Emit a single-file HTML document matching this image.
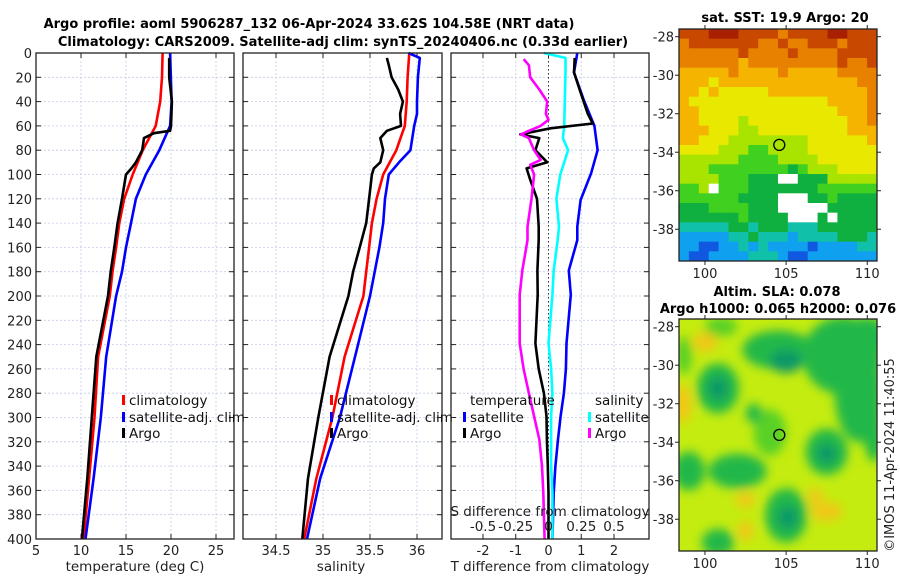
<!DOCTYPE html>
<html><head><meta charset="utf-8">
<style>
body{margin:0;background:#fff;}
svg{display:block;font-family:"DejaVu Sans","Liberation Sans",sans-serif;}
</style></head>
<body>
<svg id="fig" width="900" height="580" viewBox="0 0 900 580">
<defs>
<filter id="blur" x="-20%" y="-20%" width="140%" height="140%"><feGaussianBlur stdDeviation="5"/></filter>
<clipPath id="clipSla"><rect x="679" y="319" width="198" height="232"/></clipPath>
</defs>
<text x="309" y="28" text-anchor="middle" font-size="13" font-weight="bold">Argo profile: aoml 5906287_132 06-Apr-2024 33.62S 104.58E (NRT data)</text>
<text x="343" y="46" text-anchor="middle" font-size="13" font-weight="bold">Climatology: CARS2009. Satellite-adj clim: synTS_20240406.nc (0.33d earlier)</text>
<text x="785" y="22" text-anchor="middle" font-size="13" font-weight="bold">sat. SST: 19.9 Argo: 20</text>
<text x="777" y="296" text-anchor="middle" font-size="13" font-weight="bold">Altim. SLA: 0.078</text>
<text x="778" y="313" text-anchor="middle" font-size="13" font-weight="bold">Argo h1000: 0.065 h2000: 0.076</text>
<text transform="translate(894,455) rotate(-90)" text-anchor="middle" font-size="13" fill="#222">©IMOS 11-Apr-2024 11:40:55</text>
<g id="layer"></g>
</svg>
<script>
// ---------- profile data ----------
const depthTicks = [0,20,40,60,80,100,120,140,160,180,200,220,240,260,280,300,320,340,360,380,400];
const tempTicks = [5,10,15,20,25];
const salTicks = [34.5,35,35.5,36];
const salTickLabels = ["34.5","35","35.5","36"];
const dTTicks = [-2,-1,0,1,2];
const dSTickLabels = ["-0.5","-0.25","0","0.25","0.5"];
const dSTicks = [-0.5,-0.25,0,0.25,0.5];

const tClimDepth = [0,20,40,60,80,100,120,140,160,180,200,250,300,350,400];
const tClimVal   = [19.07,19.0,18.8,18.3,16.85,15.74,14.8,14.26,13.9,13.5,13.2,11.9,11.5,10.9,10.3];
const tSatDepth  = [0,40,60,80,100,120,140,160,180,200,250,300,350,400];
const tSatVal    = [19.9,20.07,19.9,18.7,17.2,16.1,15.55,15.0,14.55,13.9,12.8,12.2,11.4,10.5];
const tArgoDepth = [4,20,40,60,64,66,70,80,90,95,100,120,140,160,180,200,250,300,350,400];
const tArgoVal   = [19.8,19.8,20.1,20.0,19.9,18.1,17.0,16.8,16.1,15.6,15.0,14.55,14.07,13.7,13.3,13.0,11.7,11.2,10.7,10.1];

const sClimDepth = [0,20,40,60,80,100,120,140,160,180,200,250,300,350,400];
const sClimVal   = [35.918,35.90,35.89,35.87,35.78,35.64,35.57,35.52,35.49,35.46,35.43,35.23,35.1,34.93,34.80];
const sSatDepth  = [0,4,20,40,50,60,80,90,100,120,140,160,180,200,250,300,350,400];
const sSatVal    = [35.91,36.03,36.01,36.0,36.0,35.97,35.93,35.81,35.70,35.66,35.64,35.60,35.55,35.50,35.34,35.18,34.97,34.83];
const sArgoDepth = [4,10,20,30,40,50,60,64,70,80,90,95,100,120,140,160,180,200,250,300,350,400];
const sArgoVal   = [35.68,35.70,35.73,35.80,35.85,35.82,35.83,35.68,35.61,35.64,35.61,35.54,35.52,35.49,35.46,35.39,35.32,35.27,35.07,34.95,34.84,34.78];

const dTSatDepth = [0,16,39,60,80,99,121,143,154,179,199,239,260,280,299,318,340,362,400];
const dTSatVal   = [0.88,0.78,1.08,1.4,1.5,1.3,0.98,0.88,0.88,0.62,0.68,0.55,0.53,0.47,0.37,0.29,0.21,0.16,0.12];
const dTArgoDepth= [4,16,30,50,58,62,67,70,80,90,95,105,120,143,154,179,199,239,260,280,299,318,340,362,400];
const dTArgoVal  = [0.8,0.78,0.95,1.2,1.35,0.06,-0.86,-0.28,-0.4,-0.04,-0.67,-0.55,-0.35,-0.3,-0.3,-0.34,-0.33,-0.4,-0.3,-0.14,-0.06,-0.05,-0.02,0.0,0.0];
const dSSatDepth = [0,4,16,60,70,80,100,120,143,154,179,199,239,260,280,299,318,340,362,400];
const dSSatVal   = [-0.036,0.13,0.13,0.12,0.11,0.15,0.09,0.06,0.08,0.07,0.04,0.03,0.0,0.02,0.03,0.02,0.02,0.02,0.03,0.03];
const dSArgoDepth= [5,10,20,30,40,50,55,60,65,67,70,80,88,92,100,120,143,154,179,199,239,260,280,299,318,340,362,400];
const dSArgoVal  = [-0.19,-0.15,-0.14,-0.07,-0.01,-0.02,0.0,-0.06,-0.17,-0.21,-0.15,-0.11,-0.06,-0.14,-0.11,-0.13,-0.16,-0.16,-0.2,-0.22,-0.22,-0.19,-0.15,-0.11,-0.07,-0.05,-0.04,-0.03];

// ---------- map data ----------
const lonTicks = [100,105,110];
const latTicks = [-28,-30,-32,-34,-36,-38];
const argoLon = [104.58];
const argoLat = [-33.62];
const sstPalette = ["#ffffff","#1058e0","#10a0f0","#10c0a8","#10b040","#40d020","#a8e400","#e8e800","#f4b400","#e88000","#c84800","#a82000"];
const sstRows = [
"aaabbbaaaa9aaaabbaaa","9aaaaaaa99a99aaa9aaa","999999a9999a9999aaaa","9999998999999999a99a",
"88888988889888889999","88878888888888888899","88787777788888888889","87777777777777788889",
"88777777777777778889","88777767777777777889","88877766777777777888","88777666666667777778",
"77776665566667777777","66666655556666777777","66655555555456667777","66665554440044466666",
"55605554444444555555","55555544440004454444","44455554440000044444","44444454444000404444",
"33333443444333444444","22222334333233334443","22112232322221222233","21122223332112222222"];
const slaBlobLon = [98.7,101,104.5,108.5,109.5,110,100.8,107.5,104,103,99,102,105,100.8,110.4,105,100.8,107.5,105.1];
const slaBlobLat = [-29.5,-28,-29.2,-29.5,-31.5,-28.5,-31.2,-34.5,-33.5,-32.5,-35.5,-35.5,-37.8,-39.2,-33.5,-29.8,-31.2,-34.6,-37.9];
const slaBlobRx  = [0.5,1,2.2,2.5,1.5,1.2,1.3,1.3,1,0.5,1,1.8,1.3,1,0.6,1,0.6,0.6,0.6];
const slaBlobRy  = [1,0.5,1,2,2.5,1,1.3,1.2,1.2,0.5,1,0.9,1.4,0.7,1.5,0.6,0.6,0.5,0.6];
const slaBlobLvl = [1,1,2,2,2,2,2,2,1,2,2,2,2,2,2,3,3,3,3];
const slaWarmLon = [98.6,100,102.5,106.8,107.5,102.5];
const slaWarmLat = [-32,-28.8,-37,-36.8,-37.6,-38.6];
const slaWarmRx  = [0.6,0.8,0.6,0.5,1,0.5];
const slaWarmRy  = [1,0.5,0.4,0.4,0.5,0.5];

// ---------- helpers ----------
const NS='http://www.w3.org/2000/svg';
const layer=document.getElementById('layer');
function mk(tag,attrs,parent){const e=document.createElementNS(NS,tag);for(const k in attrs)e.setAttribute(k,attrs[k]);(parent||layer).appendChild(e);return e;}
const yTop=53,yBot=539;
function yD(d){return yTop+(d-0)*(yBot-yTop)/400;}
function lin(d0,d1,r0,r1){return v=>r0+(v-d0)*(r1-r0)/(d1-d0);}

function panel(name,x0,x1,xs,xticks,xlabels,showY){
  const g=mk('g',{});
  
  
  depthTicks.forEach(d=>{ if(d>0&&d<400){const l=mk('line',{x1:x0,x2:x1,y1:yD(d),y2:yD(d),stroke:'#c4cce8','stroke-width':0.8,'stroke-dasharray':'2,2'},g);
    }
    mk('line',{x1:x0,x2:x0+5,y1:yD(d),y2:yD(d),stroke:'#222'},g);mk('line',{x1:x1-5,x2:x1,y1:yD(d),y2:yD(d),stroke:'#222'},g);
    if(showY){const t=mk('text',{x:x0-4,y:yD(d)+5,'text-anchor':'end','font-size':13,fill:'#222'},g);t.textContent=d;
      }
  });
  xticks.forEach((v,i)=>{const x=xs(v);
    if(x>x0+1&&x<x1-1){const l=mk('line',{x1:x,x2:x,y1:yTop,y2:yBot,stroke:'#c4cce8','stroke-width':0.8,'stroke-dasharray':'2,2'},g);
      }
    mk('line',{x1:x,x2:x,y1:yBot,y2:yBot-5,stroke:'#222'},g);mk('line',{x1:x,x2:x,y1:yTop,y2:yTop+5,stroke:'#222'},g);
    const t=mk('text',{x:x,y:yBot+16,'text-anchor':'middle','font-size':13,fill:'#222'},g);t.textContent=xlabels[i];
    
  });
  return g;
}
function frame(x0,x1,name){const r=mk('rect',{x:x0,y:yTop,width:x1-x0,height:yBot-yTop,fill:'none',stroke:'#222','stroke-width':1.3});
  }
function curve(name,depths,vals,xs,color,w){
  const pts=depths.map((d,i)=>xs(vals[i]).toFixed(1)+','+yD(d).toFixed(1)).join(' ');
  const p=mk('polyline',{points:pts,fill:'none',stroke:color,'stroke-width':w||2.6,'stroke-linejoin':'round'});
  
}
function legendItem(name,x,y,color,label){
  const g=mk('g',{});
  if(color)mk('rect',{x:x-7,y:y-10,width:3,height:10,fill:color},g);
  const t=mk('text',{x:x,y:y,'font-size':13.5,fill:'#111'},g);t.textContent=label;
}
function label(name,x,y,txt,anchor){const t=mk('text',{x:x,y:y,'text-anchor':anchor||'middle','font-size':13.5,fill:'#222'});t.textContent=txt;
  }

// ---------- panel 1 temperature ----------
const xT=lin(5,25,36,216);
panel('temperature-panel',36,234,xT,tempTicks,tempTicks.map(String),true);
curve('temp-climatology-line',tClimDepth,tClimVal,xT,'#f00');
curve('temp-satellite-line',tSatDepth,tSatVal,xT,'#00f');
curve('temp-argo-line',tArgoDepth,tArgoVal,xT,'#000');
frame(36,234,'temperature-frame');
label('temperature-axis-title',135,571,'temperature (deg C)');
legendItem('legend-climatology',129,405,'#f00','climatology');
legendItem('legend-satellite-adj',129,422,'#00f','satellite-adj. clim');
legendItem('legend-argo',129,438,'#000','Argo');

// ---------- panel 2 salinity ----------
const xS=lin(34.5,36,276,417);
panel('salinity-panel',243,442,xS,salTicks,salTickLabels,false);
curve('sal-climatology-line',sClimDepth,sClimVal,xS,'#f00');
curve('sal-satellite-line',sSatDepth,sSatVal,xS,'#00f');
curve('sal-argo-line',sArgoDepth,sArgoVal,xS,'#000');
frame(243,442,'salinity-frame');
label('salinity-axis-title',341,571,'salinity');
legendItem('legend-sal-climatology',337,405,'#f00','climatology');
legendItem('legend-sal-satellite-adj',337,422,'#00f','satellite-adj. clim');
legendItem('legend-sal-argo',337,438,'#000','Argo');

// ---------- panel 3 differences ----------
const xdT=lin(-2,2,483,614);
const xdS=lin(-0.5,0.5,483,614);
panel('difference-panel',451,649,xdT,dTTicks,dTTicks.map(String),false);
const z=mk('line',{x1:xdT(0),x2:xdT(0),y1:yTop,y2:yBot,stroke:'#334',"stroke-width":1,'stroke-dasharray':'1.5,2.5'});

curve('dT-satellite-line',dTSatDepth,dTSatVal,xdT,'#00f');
curve('dS-satellite-line',dSSatDepth,dSSatVal,xdS,'#0ff');
curve('dT-argo-line',dTArgoDepth,dTArgoVal,xdT,'#000');
curve('dS-argo-line',dSArgoDepth,dSArgoVal,xdS,'#f0f');
frame(451,649,'difference-frame');
dSTicks.forEach((v,i)=>label('s-diff-tick-label',xdS(v),531,dSTickLabels[i]));
label('s-diff-axis-title',550,516,'S difference from climatology');
label('t-diff-axis-title',550,571,'T difference from climatology');
legendItem('legend-temperature-header',470,405,null,'temperature');
legendItem('legend-t-satellite',470,422,'#00f','satellite');
legendItem('legend-t-argo',470,438,'#000','Argo');
legendItem('legend-salinity-header',595,405,null,'salinity');
legendItem('legend-s-satellite',595,422,'#0ff','satellite');
legendItem('legend-s-argo',595,438,'#f0f','Argo');

// ---------- maps ----------
function mapAxes(name,top,bot){
  const xl=lin(98.4,110.6,679,877), yl=lin(-27.6,-39.65,top,bot);
  const g=mk('g',{});
  lonTicks.forEach(v=>{const x=xl(v);mk('line',{x1:x,x2:x,y1:bot,y2:bot+4,stroke:'#222'},g);mk('line',{x1:x,x2:x,y1:top,y2:top-4,stroke:'#222'},g);
    const t=mk('text',{x:x,y:bot+17,'text-anchor':'middle','font-size':13,fill:'#222'},g);t.textContent=v;});
  latTicks.forEach(v=>{const y=yl(v);mk('line',{x1:675,x2:679,y1:y,y2:y,stroke:'#222'},g);mk('line',{x1:877,x2:881,y1:y,y2:y,stroke:'#222'},g);
    const t=mk('text',{x:674,y:y+5,'text-anchor':'end','font-size':13,fill:'#222'},g);t.textContent=v;});
  mk('rect',{x:679,y:top,width:198,height:bot-top,fill:'none',stroke:'#222','stroke-width':1.3},g);
  argoLon.forEach((lo,i)=>{const c=mk('circle',{cx:xl(lo),cy:yl(argoLat[i]),r:5.5,fill:'none',stroke:'#000','stroke-width':1.3});
    });
  return {xl,yl};
}
// SST heatmap
const sstTop=29,sstBot=261;
const gs=mk('g',{});
const nr=sstRows.length,nc=sstRows[0].length,cw=198/nc,ch=(sstBot-sstTop)/nr;
sstRows.forEach((row,r)=>{for(let c=0;c<nc;c++){const idx=parseInt(row[c],16);
  const cell=mk('rect',{x:(679+c*cw).toFixed(2),y:(sstTop+r*ch).toFixed(2),width:(cw+0.4).toFixed(2),height:(ch+0.4).toFixed(2),fill:sstPalette[idx]},gs);
  }});
mapAxes('sst-map',sstTop,sstBot);

// SLA map
const slaTop=319,slaBot=551;
const xl2=lin(98.4,110.6,679,877), yl2=lin(-27.6,-39.65,slaTop,slaBot);
const gsl=mk('g',{'clip-path':'url(#clipSla)'});
mk('rect',{x:679,y:slaTop,width:198,height:232,fill:'#c4ec10'},gsl);
const gb=mk('g',{filter:'url(#blur)'},gsl);
const blobCol=['','#58d028','#20b848','#109868'];
slaWarmLon.forEach((lo,i)=>{const e=mk('ellipse',{cx:xl2(lo),cy:yl2(slaWarmLat[i]),rx:slaWarmRx[i]*16.2,ry:slaWarmRy[i]*19.3,fill:'#f0c818'},gb);
  });
slaBlobLon.forEach((lo,i)=>{const e=mk('ellipse',{cx:xl2(lo),cy:yl2(slaBlobLat[i]),rx:slaBlobRx[i]*16.2,ry:slaBlobRy[i]*19.3,fill:blobCol[slaBlobLvl[i]]},gb);
  });
mapAxes('sla-map',slaTop,slaBot);
</script>
</body></html>
